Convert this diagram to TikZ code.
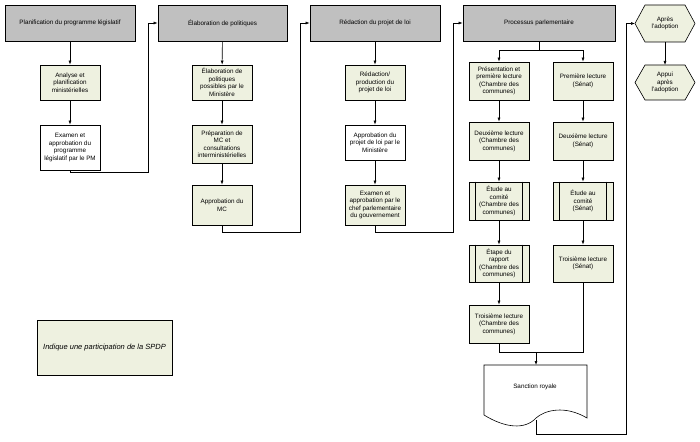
\documentclass[tikz,border=0pt]{standalone}
\usepackage{fontspec}
\setmainfont{Liberation Sans}
\usetikzlibrary{shapes.geometric,arrows.meta}
\definecolor{gfill}{HTML}{EEF1E0}
\definecolor{hfill}{HTML}{C0C0C0}
\begin{document}
\begin{tikzpicture}[x=1pt,y=-1pt,
  every node/.style={font=\fontsize{6.3}{7.5}\selectfont,align=center,inner sep=1pt},
  head/.style={draw,fill=hfill,line width=0.8pt,minimum width=#1,minimum height=36},
  box/.style={draw,fill=gfill,line width=0.8pt,minimum width=60,minimum height=#1},
  wbox/.style={draw,fill=white,line width=0.8pt,minimum width=60,minimum height=#1},
  conn/.style={line width=0.6pt},
  arr/.style={conn,-{Latex[length=4pt,width=3pt]}}]
\useasboundingbox (0,0) rectangle (700,441);
% headers
\node[head=130] (h1) at (70,23) {Planification du programme législatif};
\node[head=129] (h2) at (222.5,23) {Élaboration de politiques};
\node[head=130] (h3) at (375,23) {Rédaction du projet de loi};
\node[head=152] (h4) at (539,23) {Processus parlementaire};
% column 1
\node[box=35] (a1) at (70,82.5) {Analyse et\\planification\\ministérielles};
\node[wbox=45] (a2) at (70,147.5) {Examen et\\approbation du\\programme\\législatif par le PM};
% column 2
\node[box=35] (b1) at (222,82.5) {Élaboration de\\politiques\\possibles par le\\Ministère};
\node[box=38] (b2) at (222,144) {Préparation de\\MC et\\consultations\\interministérielles};
\node[box=40] (b3) at (222,205) {Approbation du\\MC};
% column 3
\node[box=35] (c1) at (375,82.5) {Rédaction/\\production du\\projet de loi};
\node[wbox=35] (c2) at (375,142.5) {Approbation du\\projet de loi par le\\Ministère};
\node[box=40] (c3) at (375,205) {Examen et\\approbation par le\\chef parlementaire\\du gouvernement};
% parliament left
\node[box=38] (p1) at (499,81) {Présentation et\\première lecture\\(Chambre des\\communes)};
\node[box=38] (p2) at (499,141) {Deuxième lecture\\(Chambre des\\communes)};
\node[box=38] (p3) at (499,201) {Étude au\\comité\\(Chambre des\\communes)};
\node[box=37] (p4) at (499,263.5) {Étape du\\rapport\\(Chambre des\\communes)};
\node[box=38] (p5) at (499,324) {Troisième lecture\\(Chambre des\\communes)};
% parliament right
\node[box=38] (s1) at (583,81) {Première lecture\\(Sénat)};
\node[box=38] (s2) at (583,141) {Deuxième lecture\\(Sénat)};
\node[box=38] (s3) at (583,201) {Étude au\\comité\\(Sénat)};
\node[box=37] (s4) at (583,263.5) {Troisième lecture\\(Sénat)};
% process bars
\foreach \n in {p3,p4,s3}{
  \draw[line width=0.6pt] ([xshift=7pt]\n.north west) -- ([xshift=7pt]\n.south west);
  \draw[line width=0.6pt] ([xshift=-7pt]\n.north east) -- ([xshift=-7pt]\n.south east);}
% hexagons
\draw[line width=0.6pt,fill=gfill] (635,23.5) -- (645,5) -- (685,5) -- (695,23.5) -- (685,42) -- (645,42) -- cycle;
\node (x1) at (665,23.5) {Après\\l'adoption};
\coordinate (x1w) at (635,23.5);
\coordinate (x1s) at (665,42);
\draw[line width=0.6pt,fill=gfill] (635,82.5) -- (645,65) -- (685,65) -- (695,82.5) -- (685,100) -- (645,100) -- cycle;
\node (x2) at (665,82.5) {Appui\\après\\l'adoption};
\coordinate (x2n) at (665,65);
% sanction royale document
\draw[line width=0.6pt,fill=white] (484,365) -- (587,365) -- (587,418)
  .. controls (565,405) and (545,410) .. (536,418)
  .. controls (525,430) and (505,428) .. (484,415) -- cycle;
\node (sr) at (535,387) {Sanction royale};
\coordinate (srb) at (536,420);
% legend
\node[draw,fill=gfill,line width=0.6pt,minimum width=135,minimum height=55,font=\fontsize{7.5}{9}\selectfont\itshape] (leg) at (104.5,347.5) {Indique une participation de la SPDP};
% connectors
\draw[arr] (h1) -- (a1);
\draw[arr] (a1) -- (a2);
\draw[arr] (a2.south) |- (148,172) |- (h2.west);
\draw[arr] (h2) -- (b1);
\draw[arr] (b1) -- (b2);
\draw[arr] (b2) -- (b3);
\draw[arr] (b3.south) |- (300,232) |- (h3.west);
\draw[arr] (h3) -- (c1);
\draw[arr] (c1) -- (c2);
\draw[arr] (c2) -- (c3);
\draw[arr] (c3.south) |- (453,232) |- (h4.west);
\draw[conn] (h4.south) -- (539,50) coordinate (sp);
\draw[arr] (sp) -| (p1.north);
\draw[arr] (sp) -| (s1.north);
\draw[arr] (p1) -- (p2);
\draw[arr] (p2) -- (p3);
\draw[arr] (p3) -- (p4);
\draw[arr] (p4) -- (p5);
\draw[arr] (s1) -- (s2);
\draw[arr] (s2) -- (s3);
\draw[arr] (s3) -- (s4);
\draw[conn] (p5.south) |- (583,352) coordinate (jn) -- (s4.south);
\draw[arr] (536,352) -- (536,365);
\draw[arr] (srb) |- (626,434) |- (x1w);
\draw[arr] (x1s) -- (x2n);
\end{tikzpicture}
\end{document}
